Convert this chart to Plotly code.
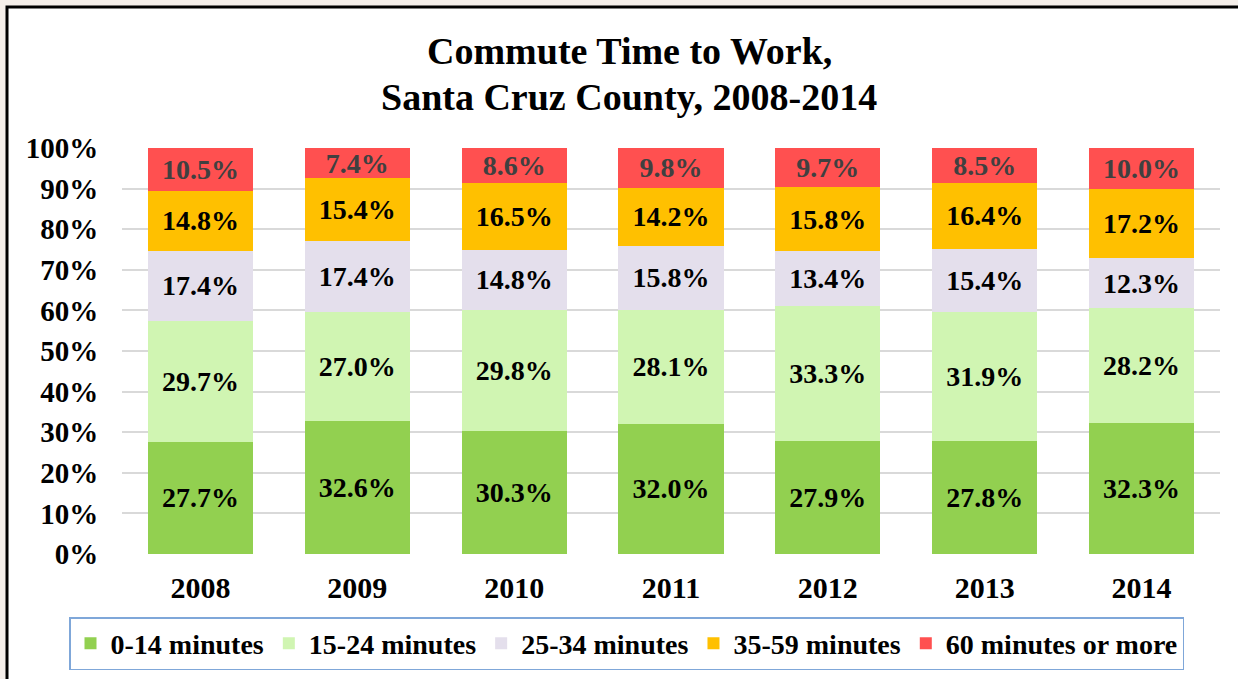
import plotly.graph_objects as go

years = ["2008", "2009", "2010", "2011", "2012", "2013", "2014"]
series_names = ["0-14 minutes", "15-24 minutes", "25-34 minutes", "35-59 minutes", "60 minutes or more"]
v_0_14 = [27.7, 32.6, 30.3, 32.0, 27.9, 27.8, 32.3]
v_15_24 = [29.7, 27.0, 29.8, 28.1, 33.3, 31.9, 28.2]
v_25_34 = [17.4, 17.4, 14.8, 15.8, 13.4, 15.4, 12.3]
v_35_59 = [14.8, 15.4, 16.5, 14.2, 15.8, 16.4, 17.2]
v_60_plus = [10.5, 7.4, 8.6, 9.8, 9.7, 8.5, 10.0]

series_values = [v_0_14, v_15_24, v_25_34, v_35_59, v_60_plus]
colors = ["#92D050", "#D0F5B2", "#E4DFEC", "#FFC000", "#FF5050"]
text_colors = ["#000000", "#000000", "#000000", "#000000", "#404040"]

FONT = "Liberation Serif"
BEIGE = "#F5EFEA"

fig = go.Figure()
for name, vals, col, tcol in zip(series_names, series_values, colors, text_colors):
    fig.add_trace(go.Bar(
        x=years, y=vals, name=name,
        marker=dict(color=col, line=dict(width=0)),
        text=[f"{v:.1f}%" for v in vals],
        textposition="inside", insidetextanchor="middle", textangle=0,
        constraintext="none",
        textfont=dict(family=FONT, size=28, color=tcol, weight="bold"),
        hoverinfo="skip",
    ))

W, H = 1238, 679
L, R, T, B = 122, 18, 148, 125
pw = W - L - R
ph = H - T - B

def px_x(px):
    return (px - L) / pw

def px_y(py):
    return (H - B - py) / ph

fig.update_layout(
    width=W, height=H,
    barmode="stack", barnorm="percent", bargap=0.33,
    margin=dict(l=L, r=R, t=T, b=B, autoexpand=False),
    paper_bgcolor=BEIGE, plot_bgcolor="white",
    font=dict(family=FONT, color="#000000"),
    showlegend=True,
    legend=dict(
        orientation="h", x=px_x(69), xanchor="left", y=px_y(617), yanchor="top",
        bordercolor="#7FA7D9", borderwidth=1.5, bgcolor="white",
        font=dict(family=FONT, size=28, color="#000000", weight="bold"),
        traceorder="normal", itemclick=False, itemdoubleclick=False,
    ),
    shapes=[dict(
        type="rect", xref="paper", yref="paper", layer="below",
        x0=px_x(7), x1=px_x(1300), y0=px_y(760), y1=px_y(7),
        fillcolor="white", line=dict(color="black", width=3),
    )],
    annotations=[
        dict(text="Commute Time to Work,", xref="paper", yref="paper",
             x=px_x(629), y=px_y(51), xanchor="center", yanchor="middle", showarrow=False,
             font=dict(family=FONT, size=38, color="#000000", weight="bold")),
        dict(text="Santa Cruz County, 2008-2014", xref="paper", yref="paper",
             x=px_x(629), y=px_y(97), xanchor="center", yanchor="middle", showarrow=False,
             font=dict(family=FONT, size=38, color="#000000", weight="bold")),
    ],
)

fig.update_xaxes(
    showgrid=False, showline=False, zeroline=False,
    ticks="outside", ticklen=0, tickcolor="rgba(0,0,0,0)", ticklabelstandoff=7,
    tickfont=dict(family=FONT, size=30, color="#000000", weight="bold"),
)
fig.update_yaxes(
    range=[0, 100], dtick=10, ticksuffix="%",
    showgrid=True, gridcolor="#D9D9D9", gridwidth=2,
    zeroline=False, showline=False,
    ticks="outside", ticklen=0, tickcolor="rgba(0,0,0,0)", ticklabelstandoff=17,
    tickfont=dict(family=FONT, size=29, color="#000000", weight="bold"),
)

fig.write_html(
    "out.html",
    config={"displayModeBar": False},
    post_script="document.body.style.margin='0px';document.body.style.background='" + BEIGE + "';",
)
